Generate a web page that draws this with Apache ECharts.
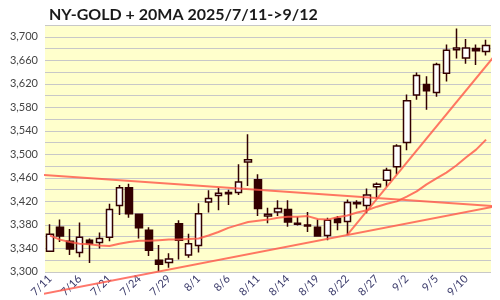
<!DOCTYPE html>
<html><head><meta charset="utf-8">
<script src="https://cdn.jsdelivr.net/npm/echarts@6/dist/echarts.min.js"></script>
<style>html,body{margin:0;padding:0;background:#fff}#c{width:500px;height:300px}</style>
</head><body><div id="c"></div>
<script>
const dates = ['7/11','7/14','7/15','7/16','7/17','7/18','7/21','7/22','7/23','7/24','7/25','7/28','7/29','7/30','7/31',
 '8/1','8/4','8/5','8/6','8/7','8/8','8/11','8/12','8/13','8/14','8/15','8/18','8/19','8/20','8/21','8/22','8/25','8/26','8/27','8/28','8/29',
 '9/2','9/3','9/4','9/5','9/8','9/9','9/10','9/11','9/12'];
const openP  = [3335,3376,3352,3333,3354,3350,3359,3413,3443,3398,3371,3320,3316,3382,3329,3345,3419,3430,3435,3435,3487,3457,3395,3402,3406,3383,3380,3376,3362,3391,3386,3418,3413,3445,3456,3479,3520,3601,3619,3605,3638,3678,3664,3680,3675];
const closeP = [3364,3361,3339,3359,3348,3357,3406,3443,3399,3375,3337,3313,3322,3354,3348,3399,3425,3434,3433,3453,3491,3408,3398,3408,3385,3381,3378,3361,3388,3384,3418,3416,3431,3449,3473,3514,3591,3634,3608,3653,3677,3681,3681,3676,3685];
const lowP   = [3334,3351,3329,3325,3315,3340,3352,3397,3392,3357,3327,3301,3307,3321,3324,3333,3401,3405,3414,3431,3446,3395,3383,3395,3377,3379,3368,3360,3354,3371,3363,3408,3400,3425,3445,3466,3507,3593,3576,3598,3624,3663,3654,3652,3668];
const highP  = [3381,3389,3373,3384,3357,3367,3416,3448,3450,3399,3376,3346,3332,3388,3365,3417,3439,3443,3440,3483,3534,3466,3409,3422,3422,3394,3402,3389,3392,3395,3423,3422,3442,3452,3477,3517,3602,3639,3633,3656,3687,3714,3696,3687,3695];
const ma20   = [3362,3355,3351,3348,3347,3345,3344,3348,3351,3353,3353,3354,3355,3355,3356,3357,3362,3368,3375,3380,3385,3387,3389,3392,3394,3394,3395,3390,3389,3393,3396,3401,3405,3411,3416,3420,3428,3437,3449,3459,3469,3481,3495,3508,3525];
// trend lines: [day index, price] endpoints (index may run past the first/last day)
const resistLine = [[-2.96,3467.5],[46,3410.7]];
const supportLine = [[-3.36,3254],[46,3415.2]];
const steepLine = [[30,3363],[46,3691]];
const yTicks = [3300,3340,3380,3420,3460,3500,3540,3580,3620,3660,3700];

const ohlc = dates.map((d,i)=>[openP[i],closeP[i],lowP[i],highP[i]]);
const lineColor = 'rgba(255,85,70,0.8)';
const chart = echarts.init(document.getElementById('c'), null, {renderer:'canvas'});
const trend = (data)=>({type:'line',xAxisIndex:1,data:data,symbol:'none',clip:false,silent:true,
  lineStyle:{color:lineColor,width:2},z:3,animation:false});
chart.setOption({
  animation:false,
  backgroundColor:'#ffffff',
  title:{text:'NY-GOLD + 20MA 2025/7/11->9/12',left:44,top:2,
    textStyle:{fontFamily:'Lato',fontWeight:'bold',fontSize:16,color:'#1a1a1a'}},
  grid:{left:45,right:9,top:25,bottom:28,show:true,backgroundColor:'#FFFFCC',borderWidth:0},
  xAxis:[{type:'category',data:dates,boundaryGap:true,
    axisLine:{show:false},axisTick:{show:false},splitLine:{show:false},
    axisLabel:{interval:2,rotate:45,fontFamily:'Lato',fontSize:11,color:'#3a3a6a',margin:5}},
    {type:'value',min:-0.5,max:44.5,show:false}],
  yAxis:{type:'value',min:3300,max:3720,interval:20,
    axisLine:{show:false},axisTick:{show:false},
    splitLine:{show:true,lineStyle:{color:'#C8C8C8',width:1}},
    axisLabel:{fontFamily:'Lato',fontSize:11,color:'#444',margin:7,
      formatter:v=>yTicks.indexOf(v)>=0?v.toLocaleString('en-US'):''}},
  series:[
    {type:'line',data:ma20,symbol:'none',lineStyle:{color:lineColor,width:2},z:3,silent:true},
    trend(resistLine),trend(supportLine),trend(steepLine),
    {type:'candlestick',data:ohlc,barWidth:7,z:2,
      itemStyle:{color:'#FFFFFF',color0:'#330000',borderColor:'#330000',borderColor0:'#330000',borderWidth:1.5}}
  ]
});
</script></body></html>
